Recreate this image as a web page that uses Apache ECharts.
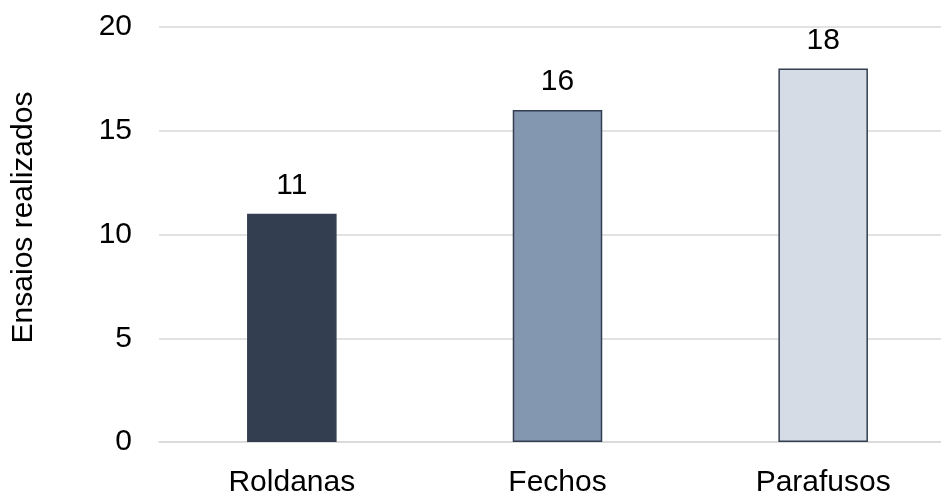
<!DOCTYPE html>
<html>
<head>
<meta charset="utf-8">
<script src="https://cdn.jsdelivr.net/npm/echarts@6/dist/echarts.min.js"></script>
<style>
	html, body { margin: 0; padding: 0; background: #fff; }
	#chart_1 { width: 941px; height: 494px; }
</style>
</head>
<body>
<div id="chart_1"></div>
<script>
var categories = ['Roldanas', 'Fechos', 'Parafusos'];
var values = [11, 16, 18];
var barColors = ['#333F50', '#8497B0', '#D6DCE5'];
var yTicks = [0, 5, 10, 15, 20];

(function() {
	var myChart = echarts.init(document.getElementById('chart_1'));
	var fontFamily = '"Liberation Sans", Arial, sans-serif';

	var seriesData = [];
	for (var i = 0; i < values.length; i++) {
		seriesData.push({
			value: values[i],
			itemStyle: { color: barColors[i] }
		});
	}

	var option = {
		animation: false,
		grid: {
			left: 159,
			right: -15,
			top: 27,
			bottom: 52,
			outerBoundsMode: 'none'
		},
		xAxis: {
			type: 'category',
			data: categories,
			axisLine: { show: true, lineStyle: { color: '#D9D9D9', width: 1.5 } },
			axisTick: { show: false },
			axisLabel: {
				color: '#000',
				fontSize: 30,
				fontFamily: fontFamily,
				margin: 26
			}
		},
		yAxis: {
			type: 'value',
			min: yTicks[0],
			max: yTicks[yTicks.length - 1],
			interval: 5,
			name: 'Ensaios realizados',
			nameLocation: 'middle',
			nameGap: 120,
			nameRotate: 90,
			nameTextStyle: {
				color: '#000',
				fontSize: 30,
				fontFamily: fontFamily,
				padding: [0, 0, 0, 34]
			},
			axisLine: { show: false },
			axisTick: { show: false },
			axisLabel: {
				color: '#000',
				fontSize: 30,
				fontFamily: fontFamily,
				margin: 27
			},
			splitLine: { lineStyle: { color: '#D9D9D9', width: 1.5 } }
		},
		series: [{
			type: 'bar',
			data: seriesData,
			barWidth: '33.7%',
			itemStyle: {
				borderColor: '#333F50',
				borderWidth: 1.5
			},
			label: {
				show: true,
				position: 'top',
				distance: 13,
				color: '#000',
				fontSize: 30,
				fontFamily: fontFamily
			}
		}]
	};

	myChart.setOption(option);
	window.addEventListener('resize', function() {
		myChart.resize();
	});
})();
</script>
</body>
</html>
